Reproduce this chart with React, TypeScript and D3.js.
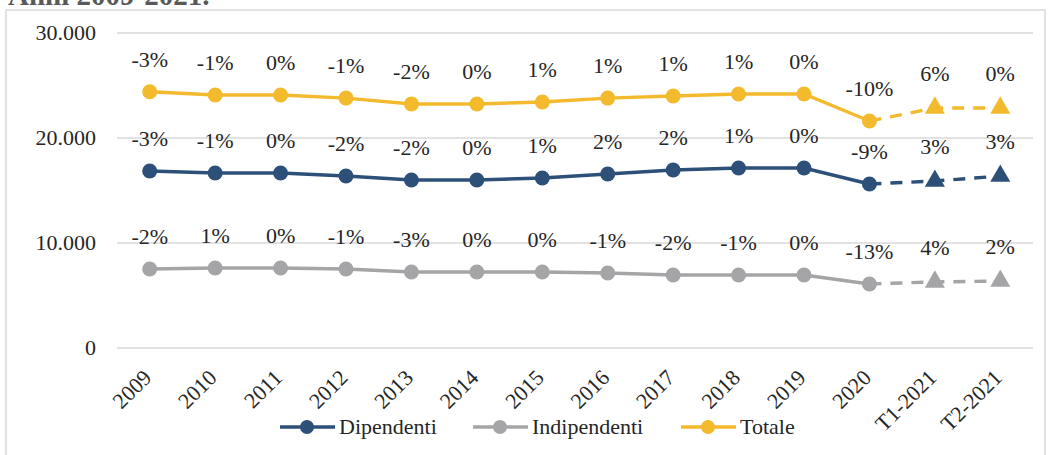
import React from "react";
import * as d3 from "d3";

const categories = ["2009", "2010", "2011", "2012", "2013", "2014", "2015", "2016", "2017", "2018", "2019", "2020", "T1-2021", "T2-2021"];
const totale = [24400, 24100, 24100, 23800, 23240, 23240, 23430, 23800, 24000, 24190, 24190, 21620, 22860, 22860];
const dipendenti = [16860, 16670, 16670, 16380, 16000, 16000, 16190, 16570, 16950, 17140, 17140, 15620, 15900, 16380];
const indipendenti = [7520, 7620, 7620, 7520, 7240, 7240, 7240, 7140, 6950, 6950, 6950, 6100, 6290, 6380];
const totaleLabels = ["-3%", "-1%", "0%", "-1%", "-2%", "0%", "1%", "1%", "1%", "1%", "0%", "-10%", "6%", "0%"];
const dipendentiLabels = ["-3%", "-1%", "0%", "-2%", "-2%", "0%", "1%", "2%", "2%", "1%", "0%", "-9%", "3%", "3%"];
const indipendentiLabels = ["-2%", "1%", "0%", "-1%", "-3%", "0%", "0%", "-1%", "-2%", "-1%", "0%", "-13%", "4%", "2%"];
const yTicks = [0, 10000, 20000, 30000];

const FONT = "Liberation Serif, DejaVu Serif, serif";

const series = [
  { name: "Dipendenti", values: dipendenti, labels: dipendentiLabels, color: "#2C5078" },
  { name: "Indipendenti", values: indipendenti, labels: indipendentiLabels, color: "#A5A5A7" },
  { name: "Totale", values: totale, labels: totaleLabels, color: "#F4BA2E" },
];

const fmt = (v: number) => d3.format(",")(v).replace(/,/g, ".");

export default function App() {
  const width = 1051;
  const height = 455;
  const plot = { left: 117, right: 1033, top: 33, bottom: 348 };

  const x = d3.scaleBand().domain(categories).range([plot.left, plot.right]);
  const y = d3.scaleLinear().domain([0, 30000]).range([plot.bottom, plot.top]);
  const cx = (c: string) => (x(c) as number) + x.bandwidth() / 2;

  const line = d3
    .line<[string, number]>()
    .x((d) => cx(d[0]))
    .y((d) => y(d[1]));

  const solidN = 12; // 2009..2020 solid, then dashed to T2-2021

  const legend = [
    { s: series[0], x: 280 },
    { s: series[1], x: 473 },
    { s: series[2], x: 681 },
  ];

  return (
    <svg
      width={width}
      height={height}
      style={{ position: "absolute", left: 0, top: 0, background: "#fff", fontFamily: FONT }}
    >
      <text x={8} y={5} fontSize={29} fontWeight="bold" fill="#595959">
        Anni 2009-2021.
      </text>
      <rect x={6} y={10} width={1039} height={460} fill="none" stroke="#D9D9D9" strokeWidth={1.5} />

      {/* grid */}
      {yTicks.map((t) => (
        <g key={t}>
          <line x1={plot.left} x2={plot.right} y1={y(t)} y2={y(t)} stroke="#D9D9D9" strokeWidth={1.5} />
          <text x={96} y={y(t) + 7} textAnchor="end" fontSize={22} fill="#262626">
            {fmt(t)}
          </text>
        </g>
      ))}

      {/* x labels */}
      {categories.map((c) => (
        <text
          key={c}
          transform={`translate(${cx(c) + 3},${379}) rotate(-45)`}
          textAnchor="end"
          fontSize={22}
          fill="#262626"
        >
          {c}
        </text>
      ))}

      {/* series */}
      {series.map((s) => {
        const pts = categories.map((c, i) => [c, s.values[i]] as [string, number]);
        return (
          <g key={s.name}>
            <path d={line(pts.slice(0, solidN)) || ""} fill="none" stroke={s.color} strokeWidth={3.4} />
            <path
              d={line(pts.slice(solidN - 1)) || ""}
              fill="none"
              stroke={s.color}
              strokeWidth={3.4}
              strokeDasharray="12 9"
            />
            {pts.map(([c, v], i) =>
              i < solidN ? (
                <circle key={c} cx={cx(c)} cy={y(v)} r={7.5} fill={s.color} />
              ) : (
                <path
                  key={c}
                  transform={`translate(${cx(c)},${y(v)})`}
                  d={d3.symbol(d3.symbolTriangle, 175)() || ""}
                  fill={s.color}
                />
              )
            )}
            {pts.map(([c, v], i) => (
              <text key={c} x={cx(c)} y={y(v) - (i < solidN ? 25 : 27)} textAnchor="middle" fontSize={22} fill="#262626">
                {s.labels[i]}
              </text>
            ))}
          </g>
        );
      })}

      {/* legend */}
      {legend.map(({ s, x: lx }) => (
        <g key={s.name}>
          <line x1={lx} x2={lx + 55} y1={427} y2={427} stroke={s.color} strokeWidth={3.4} />
          <circle cx={lx + 27} cy={427} r={7} fill={s.color} />
          <text x={lx + 59} y={434} fontSize={22} fill="#262626">
            {s.name}
          </text>
        </g>
      ))}
    </svg>
  );
}
